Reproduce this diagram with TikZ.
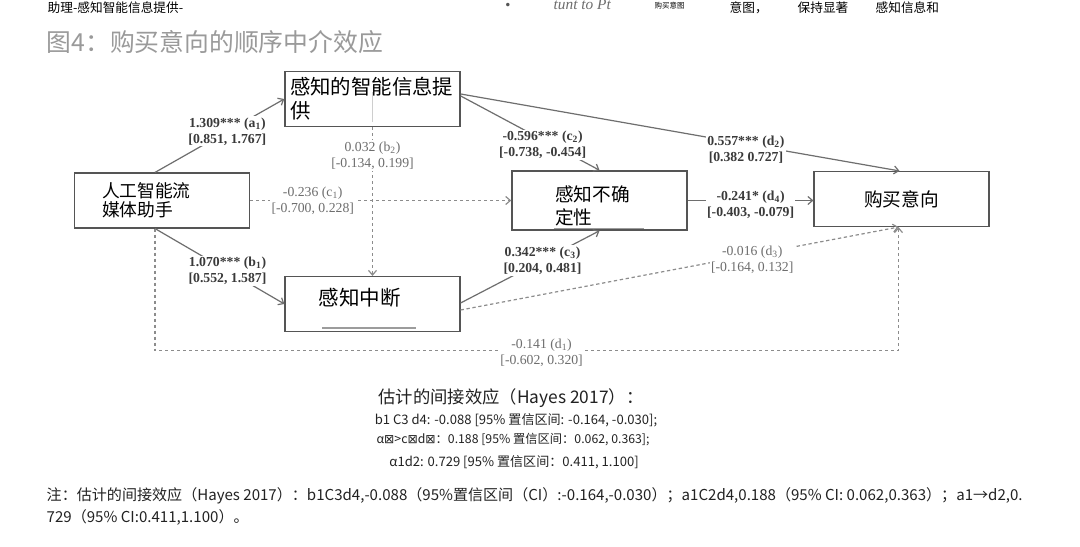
\documentclass[tikz,border=0pt]{standalone}
\usepackage{fontspec}
\setmainfont{Liberation Serif}
\newfontfamily\cjk{Noto Sans CJK SC}
\newfontfamily\symfont{DejaVu Sans}
\usetikzlibrary{arrows.meta, positioning, calc}
\usepackage{xcolor}
\definecolor{boxgray}{HTML}{555555}
\definecolor{linegray}{HTML}{6E6E6E}
\definecolor{dashgray}{HTML}{8C8C8C}
\definecolor{coefdark}{HTML}{3A3A3A}
\definecolor{coefgray}{HTML}{6E6E6E}
\definecolor{titlegray}{HTML}{9A9A9A}
\definecolor{notedark}{HTML}{222222}
\definecolor{smudge}{HTML}{9C9C9C}

\begin{document}
\begin{tikzpicture}[
			x=0.75pt, y=-0.75pt,
			block/.style = {rectangle, draw=boxgray, line width=1.1pt, minimum width=131pt, minimum height=41pt, text=black},
			coef/.style = {fill=white, inner sep=1pt, align=center, text=coefdark, font=\fontsize{10.3}{12}\selectfont\bfseries},
			coefns/.style = {fill=white, inner sep=1pt, align=center, text=coefgray, font=\fontsize{10.3}{12}\selectfont},
			arr/.style = {-{Straight Barb[length=3.5pt, width=6pt]}, line width=0.9pt, draw=linegray},
			dasharr/.style = {arr, draw=dashgray, dash pattern=on 2.5pt off 2pt},
			toptext/.style = {anchor=west, font=\cjk\fontsize{9.5}{10}\selectfont, text=black},
			esttext/.style = {font=\cjk\fontsize{9.8}{11}\selectfont, text=notedark},
			notetext/.style = {anchor=west, font=\cjk\fontsize{11.3}{12}\selectfont, text=notedark},
		]
			\fill[white] (0,0) rectangle (1080,546);
			\useasboundingbox (0,0) rectangle (1080,546);

			% 顶部残留文字
			\node[toptext] (topleft) at (43,8) {助理-感知智能信息提供-};
			\node[text=boxgray, font=\fontsize{9}{9}\selectfont] (topdot) at (508,6) {\symfont •};
			\node[anchor=base west, text=coefgray, font=\itshape\fontsize{11.5}{12}\selectfont] (toppt) at (549,9) {tunt to Pt};
			\node[toptext, font=\cjk\fontsize{5.6}{6}\selectfont] (topsmall) at (650,6) {购买意图};
			\node[toptext] (topa) at (725,8) {意图，};
			\node[toptext] (topb) at (793,8) {保持显著};
			\node[toptext] (topc) at (871,8) {感知信息和};

			% 标题
			\node[anchor=west, text=titlegray, font=\cjk\fontsize{18.6}{20}\selectfont] (title) at (42,42) {图4：购买意向的顺序中介效应};

			% 变量框
			\node[block, text width=90pt, inner xsep=20.25pt, align=left, font=\cjk\fontsize{13.3}{14.5}\selectfont] (x) at (162,200.5) {人工智能流\\媒体助手};
			\node[block, text width=123.75pt, inner xsep=3.75pt, align=left, font=\cjk\fontsize{15.3}{18}\selectfont] (m1) at (372.5,99) {感知的智能信息提\\供};
			\node[block, font=\cjk\fontsize{15.4}{17}\selectfont] (m2) at (372.5,304) {\raisebox{10.5pt}{感知中断}\hspace*{19pt}};
			\node[block, text width=66.75pt, inner xsep=32.25pt, align=left, font=\cjk\fontsize{14}{17}\selectfont] (m3) at (599.5,200.5) {\rule{0pt}{19.5pt}感知不确\\定性};
			\node[block, font=\cjk\fontsize{14}{16}\selectfont] (y) at (901.5,199) {购买意向};

			% 框内灰线
			\draw[line width=1pt, smudge] ($(m3.south west)+(43,-2)$) -- ++(90,0);
			\draw[line width=1pt, smudge] ($(m2.south west)+(38,-4)$) -- ++(94,0);
			\draw[line width=0.6pt, smudge!50] ($(m1.south)+(0,-5)$) -- ++(0,-30);

			% 路径
			\draw[arr] ($(x.north)+(-7,0)$) -- (m1.west) node[coef, pos=0.56] {1.309*** (a\textsubscript{1})\\ {[}0.851, 1.767{]}};
			\draw[arr] ($(x.south)+(-7,0)$) -- (m2.west) node[coef, pos=0.56] {1.070*** (b\textsubscript{1})\\ {[}0.552, 1.587{]}};
			\draw[dasharr] (x.east) -- (m3.west) node[coefns, pos=0.24] {-0.236 (c\textsubscript{1})\\ {[}-0.700, 0.228{]}};
			\draw[dasharr] (m1.south) -- (m2.north) node[coefns, pos=0.19] {0.032 (b\textsubscript{2})\\ {[}-0.134, 0.199{]}};
			\draw[arr] ($(m1.east)+(0,-3)$) -- (m3.north) node[coef, pos=0.59, yshift=-4pt] {-0.596*** (c\textsubscript{2})\\ {[}-0.738, -0.454{]}};
			\draw[arr] ($(m1.east)+(0,-5)$) -- ($(y.north)+(-2,0)$) node[coef, pos=0.65, yshift=-4pt] {0.557*** (d\textsubscript{2})\\ {[}0.382 0.727{]}};
			\draw[arr] (m3.east) -- (y.west |- m3.east) node[coef, midway, yshift=-3pt] {-0.241* (d\textsubscript{4})\\ {[}-0.403, -0.079{]}};
			\draw[arr] ($(m2.east)+(0,-1)$) -- (m3.south) node[coef, pos=0.59] {0.342*** (c\textsubscript{3})\\ {[}0.204, 0.481{]}};
			\draw[dasharr] ($(m2.east)+(0,6)$) -- ($(y.south)+(-3,0)$) node[coefns, pos=0.666, yshift=-4pt] {-0.016 (d\textsubscript{3})\\ {[}-0.164, 0.132{]}};
			\draw[dasharr] ($(x.south)+(-7,0)$) -- ++(0,122) -| ($(y.south)+(-3,0)$) node[coefns, pos=0.26, yshift=-2pt] {-0.141 (d\textsubscript{1})\\ {[}-0.602, 0.320{]}};

			% 间接效应
			\node[esttext, font=\cjk\fontsize{13}{14}\selectfont] (esttitle) at (511,398) {估计的间接效应（Hayes 2017）：};
			\node[esttext] (est1) at (516,420) {b1 C3 d4: -0.088 [95\% 置信区间: -0.164, -0.030];};
			\node[esttext, font=\cjk\fontsize{9.2}{11}\selectfont] (est2) at (513,440) {α{\symfont ⊠}>c{\symfont ⊠}d{\symfont ⊠}：0.188 [95\% 置信区间：0.062, 0.363];};
			\node[esttext] (est3) at (514,462) {α1d2: 0.729 [95\% 置信区间：0.411, 1.100]};

			% 注
			\node[notetext] (note1) at (42,496) {注：估计的间接效应（Hayes 2017）：b1C3d4,-0.088（95\%置信区间（CI）:-0.164,-0.030）；a1C2d4,0.188（95\% CI: 0.062,0.363）；a1→d2,0.};
			\node[notetext] (note2) at (42,517) {729（95\% CI:0.411,1.100）。};
		\end{tikzpicture}
\end{document}
